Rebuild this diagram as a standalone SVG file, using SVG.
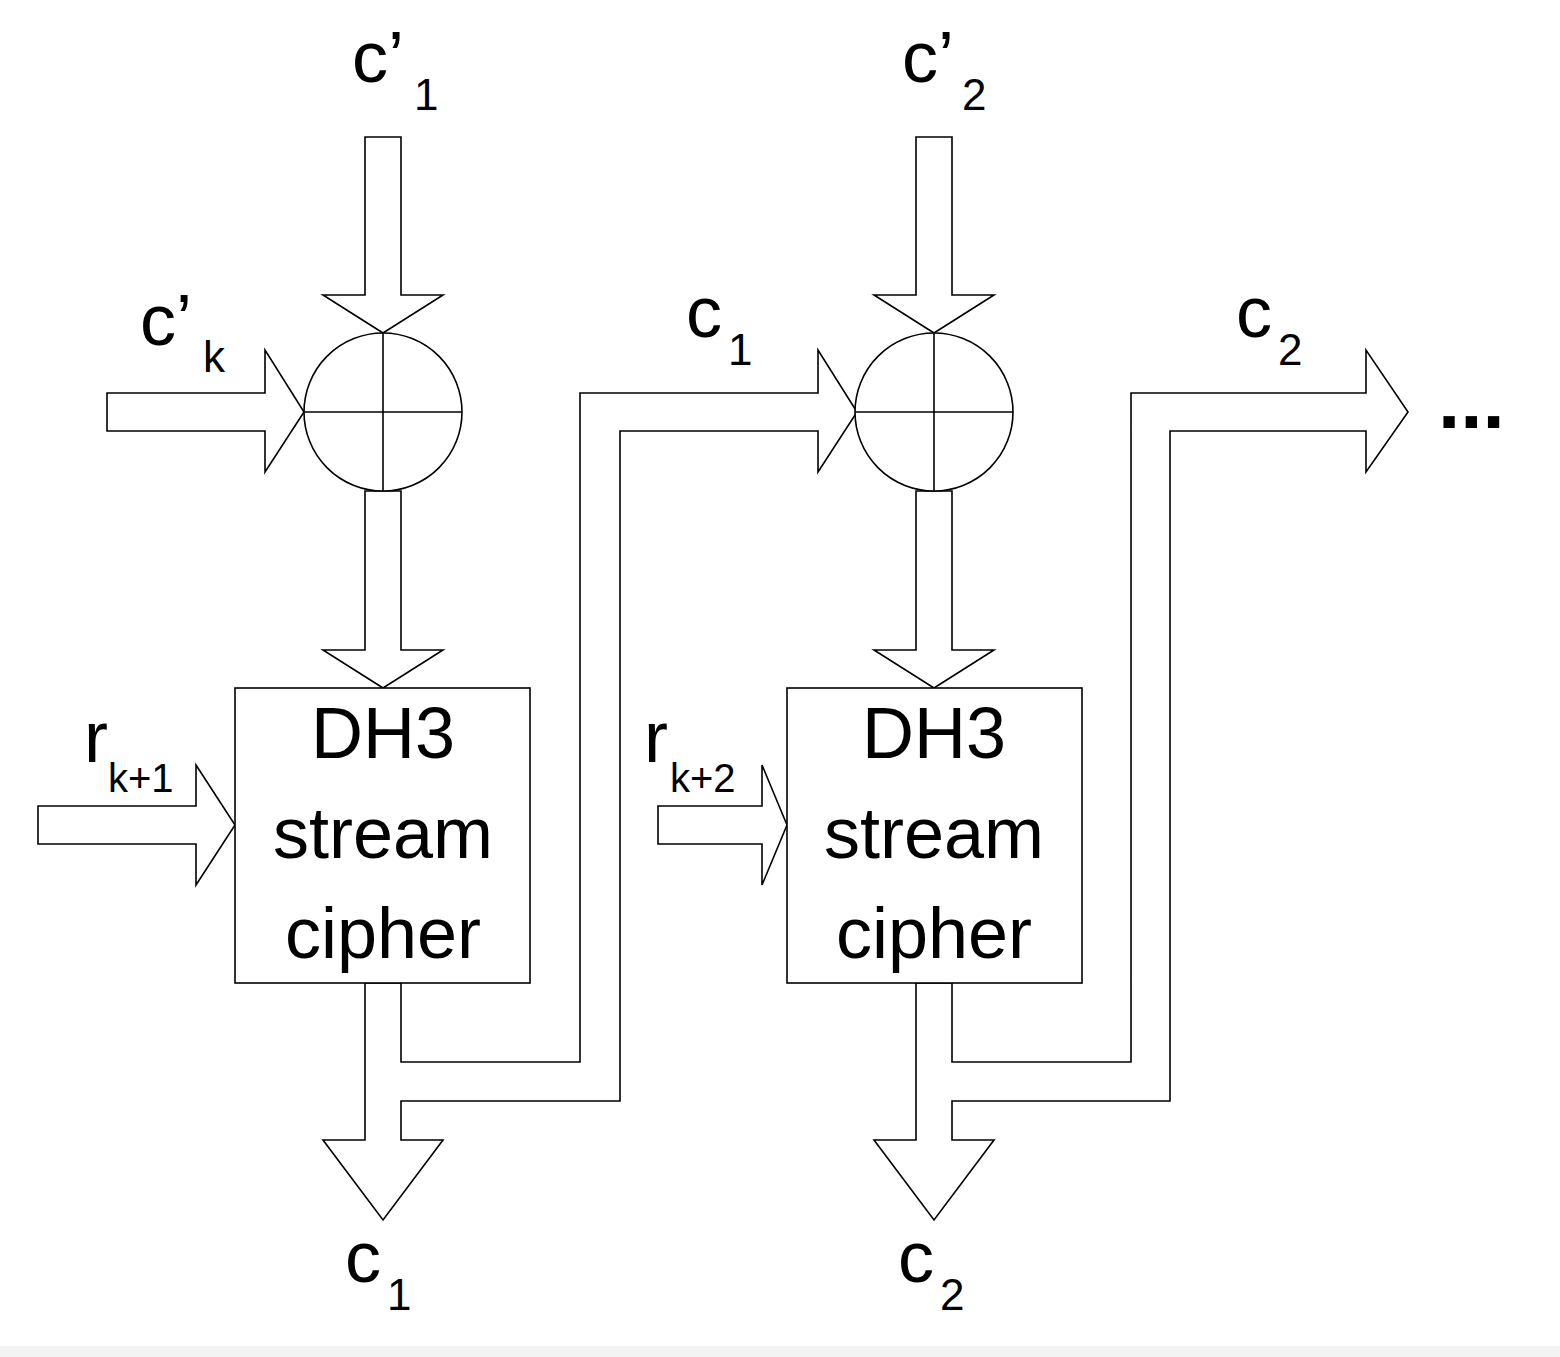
<svg xmlns="http://www.w3.org/2000/svg" width="1560" height="1357" viewBox="0 0 1560 1357">
<style>
.s{fill:#fff;stroke:#000;stroke-width:1.6;stroke-linejoin:miter}
.t{font-family:"Liberation Sans",Arial,sans-serif;fill:#000}
.b{font-size:72px}
.sub{font-size:44px}
.sub2{font-size:40px}
</style>
<rect width="1560" height="1357" fill="#fff"/>
<rect y="1346" width="1560" height="11" fill="#f3f3f3"/>
<g id="connectors">
<polygon class="s" points="365,137 401,137 401,295 443,295 383,333 323,295 365,295"/>
<polygon class="s" points="107,393 265,393 265,350 304,412 265,472 265,431 107,431"/>
<polygon class="s" points="365,491 401,491 401,650 443,650 383,688 323,650 365,650"/>
<polygon class="s" points="38,806 196,806 196,765 235,825 196,885 196,844 38,844"/>
<polygon class="s" points="365,983 365,1140 323,1140 383,1220 443,1140 401,1140 401,1101 620,1101 620,431 818,431 818,472 857,412 818,350 818,393 580,393 580,1062 401,1062 401,983"/>
<polygon class="s" points="916,137 952,137 952,295 994,295 934,333 874,295 916,295"/>
<polygon class="s" points="916,491 952,491 952,650 994,650 934,688 874,650 916,650"/>
<polygon class="s" points="658,806 762,806 762,765 787,825 762,885 762,844 658,844"/>
<polygon class="s" points="916,983 916,1140 874,1140 934,1220 994,1140 952,1140 952,1101 1170,1101 1170,431 1366,431 1366,472 1408,412 1366,350 1366,393 1131,393 1131,1062 952,1062 952,983"/>
</g>
<g id="xor1"><circle class="s" cx="383" cy="412" r="79"/><line class="s" x1="383" y1="333" x2="383" y2="491"/><line class="s" x1="304" y1="412" x2="462" y2="412"/></g>
<g id="xor2"><circle class="s" cx="934" cy="412" r="79"/><line class="s" x1="934" y1="333" x2="934" y2="491"/><line class="s" x1="855" y1="412" x2="1013" y2="412"/></g>
<g id="dh3a"><rect class="s" x="235" y="688" width="295" height="295"/>
<text class="t b" x="383" y="758" text-anchor="middle">DH3</text>
<text class="t b" x="383" y="858" text-anchor="middle">stream</text>
<text class="t b" x="383" y="958" text-anchor="middle">cipher</text></g>
<g id="dh3b"><rect class="s" x="787" y="688" width="295" height="295"/>
<text class="t b" x="934" y="758" text-anchor="middle">DH3</text>
<text class="t b" x="934" y="858" text-anchor="middle">stream</text>
<text class="t b" x="934" y="958" text-anchor="middle">cipher</text></g>
<g id="labels">
<text class="t b" x="352" y="82">c’</text><text class="t sub" x="414" y="110">1</text>
<text class="t b" x="902" y="82">c’</text><text class="t sub" x="962" y="110">2</text>
<text class="t b" x="140" y="345">c’</text><text class="t sub" x="203" y="372">k</text>
<text class="t b" x="686" y="337">c</text><text class="t sub" x="728" y="365">1</text>
<text class="t b" x="1236" y="337">c</text><text class="t sub" x="1278" y="365">2</text>
<text class="t b" x="84" y="762">r</text><text class="t sub2" x="108" y="792">k+1</text>
<text class="t b" x="644" y="762">r</text><text class="t sub2" x="670" y="792">k+2</text>
<text class="t b" x="345" y="1282">c</text><text class="t sub" x="387" y="1310">1</text>
<text class="t b" x="898" y="1282">c</text><text class="t sub" x="940" y="1310">2</text>
<text class="t" x="1438" y="428" font-size="80" font-weight="bold">...</text>
</g>
</svg>
